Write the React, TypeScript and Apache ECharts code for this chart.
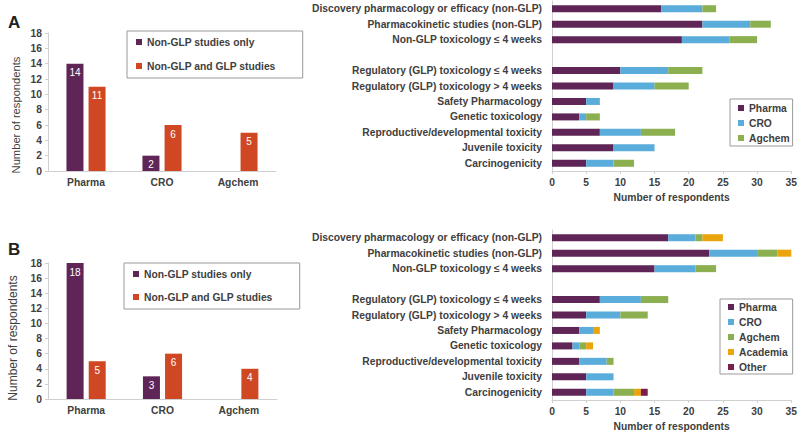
import React, { useEffect, useRef } from 'react';
import * as echarts from 'echarts';

const groups = ['Pharma', 'CRO', 'Agchem'];
const studyTypes = ['Non-GLP studies only', 'Non-GLP and GLP studies'];
const aNonGlpOnly = [14, 2, null];
const aNonGlpAndGlp = [11, 6, 5];
const bNonGlpOnly = [18, 3, null];
const bNonGlpAndGlp = [5, 6, 4];

const studyCategories = [
  'Discovery pharmacology or efficacy (non-GLP)',
  'Pharmacokinetic studies (non-GLP)',
  'Non-GLP toxicology ≤ 4 weeks',
  '',
  'Regulatory (GLP) toxicology ≤ 4 weeks',
  'Regulatory (GLP) toxicology > 4 weeks',
  'Safety Pharmacology',
  'Genetic toxicology',
  'Reproductive/developmental toxicity',
  'Juvenile toxicity',
  'Carcinogenicity',
];

const aPharma = [16, 22, 19, null, 10, 9, 5, 4, 7, 9, 5];
const aCRO = [6, 7, 7, null, 7, 6, 2, 1, 6, 6, 4];
const aAgchem = [2, 3, 4, null, 5, 5, 0, 2, 5, 0, 3];

const bPharma = [17, 23, 15, null, 7, 5, 4, 3, 4, 5, 5];
const bCRO = [4, 7, 6, null, 6, 5, 2, 1, 4, 4, 4];
const bAgchem = [1, 3, 3, null, 4, 4, 0, 1, 1, 0, 3];
const bAcademia = [3, 2, 0, null, 0, 0, 1, 1, 0, 0, 1];
const bOther = [0, 0, 0, null, 0, 0, 0, 0, 0, 0, 1];

const orgNamesB = ['Pharma', 'CRO', 'Agchem', 'Academia', 'Other'];
const yAxisTitle = 'Number of respondents';

const COLORS: Record<string, string> = {
  'Non-GLP studies only': '#5F2557',
  'Non-GLP and GLP studies': '#D04823',
  Pharma: '#5F2557',
  CRO: '#5AADDB',
  Agchem: '#8CAF4F',
  Academia: '#EAA50C',
  Other: '#7C1C4A',
};

const TXT = '#404040';
const AXIS = '#d0d0d0';
const FONT = '"Liberation Sans", Arial, sans-serif';
const FS = 10.3;

export default function App() {
  const ref = useRef<HTMLDivElement>(null);
  useEffect(() => {
    if (!ref.current) return;
    const chart = echarts.init(ref.current, undefined, { renderer: 'svg' });

    const boldLabel = { color: TXT, fontSize: FS, fontWeight: 'bold' as const, fontFamily: FONT };

    const leftX = (gi: number) => ({
      type: 'category',
      gridIndex: gi,
      data: groups,
      axisLine: { show: true, lineStyle: { color: AXIS } },
      axisTick: { show: false },
      axisLabel: { ...boldLabel, margin: 6 },
    });
    const leftY = (gi: number) => ({
      type: 'value',
      gridIndex: gi,
      min: 0,
      max: 18,
      interval: 2,
      splitLine: { show: false },
      axisLine: { show: true, lineStyle: { color: AXIS } },
      axisTick: { show: true, length: 3, lineStyle: { color: AXIS } },
      axisLabel: { ...boldLabel, margin: 6 },
    });
    const rightX = (gi: number) => ({
      type: 'value',
      gridIndex: gi,
      min: 0,
      max: 35,
      interval: 5,
      splitLine: { show: false },
      axisLine: { show: true, lineStyle: { color: AXIS } },
      axisTick: { show: true, length: 3, lineStyle: { color: AXIS } },
      axisLabel: { ...boldLabel, margin: 6 },
      name: yAxisTitle,
      nameLocation: 'middle',
      nameGap: 21,
      nameTextStyle: { ...boldLabel },
    });
    const rightY = (gi: number) => ({
      type: 'category',
      gridIndex: gi,
      data: studyCategories,
      inverse: true,
      axisLine: { show: true, lineStyle: { color: AXIS } },
      axisTick: { show: false },
      axisLabel: { ...boldLabel, margin: 10 },
    });

    const groupedBar = (name: string, data: (number | null)[], gi: number) => ({
      type: 'bar',
      name,
      xAxisIndex: gi,
      yAxisIndex: gi,
      data,
      barWidth: 17,
      barGap: '30%',
      itemStyle: { color: COLORS[name] },
      label: {
        show: true,
        position: 'insideTop',
        distance: 4,
        color: '#ffffff',
        fontSize: 10,
        fontFamily: FONT,
      },
    });
    const stackBar = (name: string, data: (number | null)[], gi: number, stack: string) => ({
      type: 'bar',
      name,
      xAxisIndex: gi,
      yAxisIndex: gi,
      stack,
      data,
      barWidth: 7,
      itemStyle: { color: COLORS[name] },
    });

    const legendBase = {
      orient: 'vertical',
      icon: 'rect',
      itemWidth: 6,
      itemHeight: 6,
      borderColor: '#9a9a9a',
      borderWidth: 1,
      selectedMode: false,
      textStyle: { ...boldLabel },
    };

    chart.setOption({
      animation: false,
      textStyle: { fontFamily: FONT },
      grid: [
        { left: 48, top: 33, width: 228, height: 138 },
        { left: 48, top: 263, width: 229, height: 136 },
        { left: 552, top: 1, width: 240, height: 170 },
        { left: 552, top: 230, width: 240, height: 170 },
      ],
      xAxis: [leftX(0), leftX(1), rightX(2), rightX(3)],
      yAxis: [leftY(0), leftY(1), rightY(2), rightY(3)],
      legend: [
        { ...legendBase, data: studyTypes, left: 127, top: 31, itemGap: 14, padding: [6, 27, 7, 9] },
        { ...legendBase, data: studyTypes, left: 124, top: 263, itemGap: 13, padding: [6, 27, 7, 9] },
        { ...legendBase, data: groups, left: 730, top: 99, itemGap: 5, padding: [4, 3, 3, 8] },
        { ...legendBase, data: orgNamesB, left: 720, top: 299, itemGap: 5, padding: [3, 5, 2, 8] },
      ],
      graphic: [
        { type: 'text', left: 8, top: 14, style: { text: 'A', fontSize: 17, fontWeight: 'bold', fill: '#222', fontFamily: FONT } },
        { type: 'text', left: 8, top: 241, style: { text: 'B', fontSize: 17, fontWeight: 'bold', fill: '#222', fontFamily: FONT } },
        {
          type: 'text', x: 16, y: 115, rotation: Math.PI / 2,
          style: { text: yAxisTitle, fontSize: 11.2, fill: TXT, fontFamily: FONT, align: 'center', verticalAlign: 'middle' },
        },
        {
          type: 'text', x: 13, y: 338, rotation: Math.PI / 2,
          style: { text: yAxisTitle, fontSize: 12, fill: TXT, fontFamily: FONT, align: 'center', verticalAlign: 'middle' },
        },
      ],
      series: [
        groupedBar('Non-GLP studies only', aNonGlpOnly, 0),
        groupedBar('Non-GLP and GLP studies', aNonGlpAndGlp, 0),
        groupedBar('Non-GLP studies only', bNonGlpOnly, 1),
        groupedBar('Non-GLP and GLP studies', bNonGlpAndGlp, 1),
        stackBar('Pharma', aPharma, 2, 'a'),
        stackBar('CRO', aCRO, 2, 'a'),
        stackBar('Agchem', aAgchem, 2, 'a'),
        stackBar('Pharma', bPharma, 3, 'b'),
        stackBar('CRO', bCRO, 3, 'b'),
        stackBar('Agchem', bAgchem, 3, 'b'),
        stackBar('Academia', bAcademia, 3, 'b'),
        stackBar('Other', bOther, 3, 'b'),
      ],
    });
    return () => chart.dispose();
  }, []);

  return (
    <div
      ref={ref}
      style={{ position: 'fixed', left: 0, top: 0, width: 800, height: 435, background: '#ffffff' }}
    />
  );
}
